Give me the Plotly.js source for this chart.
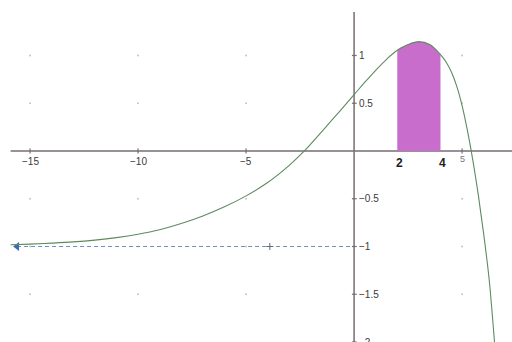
<!DOCTYPE html>
<html>
<head>
<meta charset="utf-8">
<script src="https://cdn.plot.ly/plotly-3.0.1.min.js"></script>
<style>
  html, body { margin: 0; padding: 0; background: #ffffff; }
  #chart { width: 512px; height: 342px; }
</style>
</head>
<body>
<div id="chart"></div>
<script>
// ---- data ----
const curveX = [-15.9, -15, -14, -13, -12, -11, -10, -9, -8, -7, -6, -5, -4, -3, -2.3, -2, -1, 0, 0.5, 1, 1.5, 2, 2.5, 3, 3.5, 4, 4.25, 4.5, 4.75, 5, 5.25, 5.5, 5.75, 6, 6.25, 6.5, 6.6];
const curveY = [-0.982, -0.975, -0.965, -0.952, -0.933, -0.907, -0.872, -0.825, -0.76, -0.68, -0.585, -0.47, -0.33, -0.15, 0, 0.075, 0.33, 0.59, 0.72, 0.845, 0.96, 1.055, 1.115, 1.145, 1.115, 1.01, 0.935, 0.83, 0.68, 0.475, 0.21, -0.1, -0.46, -0.87, -1.34, -2.0, -2.3];

const shadeX = [2, 2.5, 3, 3.5, 4];
const shadeY = [1.055, 1.115, 1.145, 1.115, 1.01];

const asymX = [-15.6, 0];
const asymY = [-1, -1];

const markX = [-3.9];
const markY = [-1];

const xTickVals = [-15, -10, -5];
const xTickText = ['\u221215', '\u221210', '\u22125'];
const yTickVals = [1, 0.5, -0.5, -1, -1.5, -2];
const yTickText = ['1', '0.5', '\u22120.5', '\u22121', '\u22121.5', '\u22122'];
const smallTickVal = [5];
const smallTickText = ['5'];
const boundVals = [2, 4];
const boundText = ['2', '4'];
const gridX = [-15, -10, -5, 5];
const gridY = [1, 0.5, -0.5, -1, -1.5];

// ---- build ----
const gx = [], gy = [];
gridX.forEach(x => gridY.forEach(y => { gx.push(x); gy.push(y); }));

const X_RANGE = [-16.39, 7.31];
const Y_RANGE = [-2.0, 1.581];
const axisColor = '#766c74';

const traces = [
  { x: gx, y: gy, mode: 'markers', type: 'scatter', hoverinfo: 'skip',
    marker: { size: 2, color: '#c4c4c4' } },
  { x: shadeX, y: shadeY, mode: 'lines', type: 'scatter', fill: 'tozeroy',
    fillcolor: '#c86dcc', line: { color: 'rgba(0,0,0,0)', width: 0, shape: 'spline', smoothing: 1 }, hoverinfo: 'skip' },
  { x: asymX, y: asymY, mode: 'lines', type: 'scatter', hoverinfo: 'skip',
    line: { color: '#6f8fc4', width: 1.2, dash: '4px,3px' } },
  { x: [asymX[0]], y: [asymY[0]], mode: 'markers', type: 'scatter', hoverinfo: 'skip',
    marker: { symbol: 'triangle-left', size: 8, color: '#3d6cb8' } },
  { x: markX, y: markY, mode: 'markers', type: 'scatter', hoverinfo: 'skip',
    marker: { symbol: 'cross-thin', size: 5, line: { color: '#667', width: 1 } } },
  { x: curveX, y: curveY, mode: 'lines', type: 'scatter', hoverinfo: 'skip',
    line: { color: '#5f8a60', width: 1.1, shape: 'spline', smoothing: 1 } }
];

const shapes = [
  { type: 'line', xref: 'x', yref: 'y', x0: -15.9, x1: X_RANGE[1], y0: 0, y1: 0,
    line: { color: axisColor, width: 1.5 }, layer: 'below' },
  { type: 'line', xref: 'x', yref: 'y', x0: 0, x1: 0, y0: Y_RANGE[0], y1: 1.455,
    line: { color: axisColor, width: 1.5 }, layer: 'below' }
];
xTickVals.concat(smallTickVal).forEach(v => shapes.push({
  type: 'line', xref: 'x', yref: 'y', x0: v, x1: v, y0: -0.025, y1: 0.025,
  line: { color: axisColor, width: 1.2 } }));
yTickVals.forEach(v => shapes.push({
  type: 'line', xref: 'x', yref: 'y', x0: -0.1, x1: 0.12, y0: v, y1: v,
  line: { color: axisColor, width: 1.2 } }));

const annotations = [];
const labelFont = { family: 'Liberation Sans, Arial, sans-serif', size: 10, color: '#3a3a3a' };
xTickVals.forEach((v, i) => annotations.push({
  x: v, y: 0, xref: 'x', yref: 'y', text: xTickText[i], showarrow: false,
  xanchor: 'center', yanchor: 'top', yshift: -3, font: labelFont }));
yTickVals.forEach((v, i) => annotations.push({
  x: 0, y: v, xref: 'x', yref: 'y', text: yTickText[i], showarrow: false,
  xanchor: 'left', yanchor: 'middle', xshift: 3, font: labelFont }));
smallTickVal.forEach((v, i) => annotations.push({
  x: v, y: 0, xref: 'x', yref: 'y', text: smallTickText[i], showarrow: false,
  xanchor: 'center', yanchor: 'top', yshift: -1, font: { family: 'Liberation Sans, Arial, sans-serif', size: 9, color: '#777' } }));
boundVals.forEach((v, i) => annotations.push({
  x: v, y: 0, xref: 'x', yref: 'y', text: '<b>' + boundText[i] + '</b>', showarrow: false,
  xanchor: 'center', yanchor: 'top', xshift: 2, yshift: -3,
  font: { family: 'Liberation Sans, Arial, sans-serif', size: 12, color: '#222' } }));

const layout = {
  width: 512, height: 342,
  margin: { l: 0, r: 0, t: 0, b: 0 },
  paper_bgcolor: '#ffffff', plot_bgcolor: '#ffffff',
  showlegend: false,
  xaxis: { range: X_RANGE, visible: false, fixedrange: true },
  yaxis: { range: Y_RANGE, visible: false, fixedrange: true },
  shapes: shapes,
  annotations: annotations
};

Plotly.newPlot('chart', traces, layout, { displayModeBar: false, staticPlot: true });
</script>
</body>
</html>
